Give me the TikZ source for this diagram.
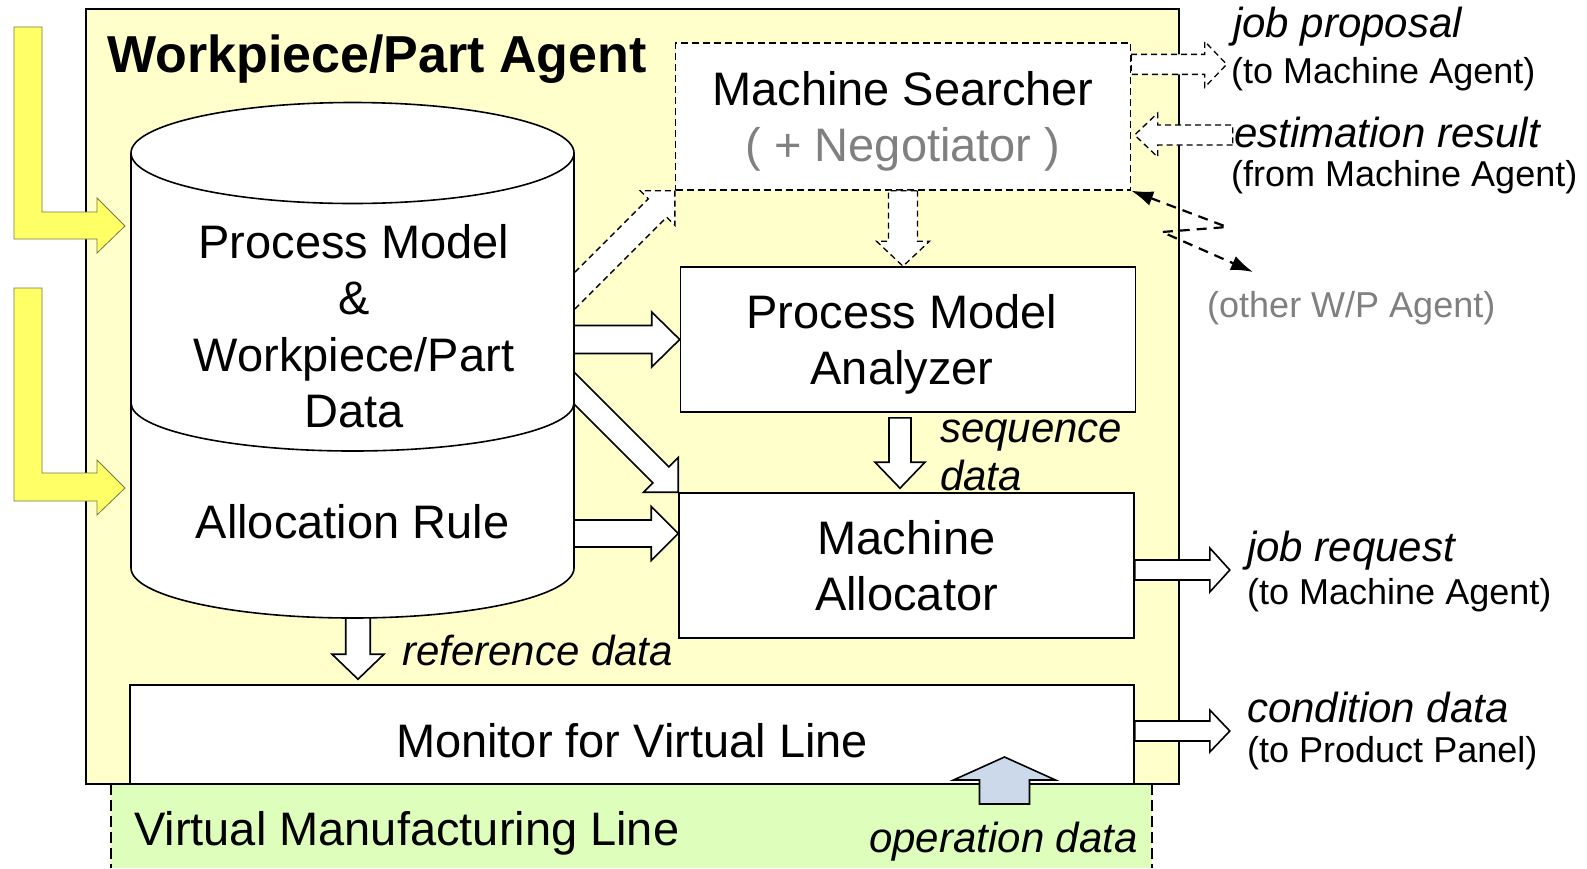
\documentclass[tikz,border=0pt]{standalone}
\usepackage{fontspec}
\setmainfont{Liberation Sans}
\usetikzlibrary{calc,arrows.meta}
\definecolor{agentyellow}{RGB}{255,255,204}
\definecolor{linegreen}{RGB}{221,255,187}
\definecolor{inyellow}{RGB}{255,255,102}
\definecolor{inedge}{RGB}{120,120,70}
\definecolor{opblue}{RGB}{204,217,234}
\tikzset{
	bshaft/.store in=\bshaft, bhead/.store in=\bhead, bheadlen/.store in=\bheadlen,
	bshaft=12pt, bhead=26pt, bheadlen=25pt,
	blk/.style={draw, fill=white, line width=1.6pt},
	blkdash/.style={blk, dash pattern=on 6pt off 4pt, line width=1.3pt},
	box/.style={draw, fill=white, line width=1.6pt, align=center, text depth=0pt, inner sep=0pt, font=\fontsize{47}{56.4}\selectfont},
	lbl/.style={inner sep=0pt, anchor=base west, font=\fontsize{42}{48}\selectfont\itshape},
	note/.style={inner sep=0pt, anchor=base west, font=\fontsize{36}{43}\selectfont},
	inarrow/.style={fill=inyellow, draw=inedge, line width=0.8pt},
}
% fat outlined arrow from #2 to #3
\newcommand{\blockarrow}[3][]{%
	\draw[blk,#1] let \p1=(#2), \p2=(#3), \p3=($(#3)!\bheadlen!(#2)$) in
		($(\p1)!\bshaft!90:(\p2)$) -- ($(\p3)!\bshaft!90:(\p2)$) -- ($(\p3)!\bhead!90:(\p2)$) -- (\p2)
		-- ($(\p3)!\bhead!-90:(\p2)$) -- ($(\p3)!\bshaft!-90:(\p2)$) -- ($(\p1)!\bshaft!-90:(\p2)$) -- cycle;}
\begin{document}
\begin{tikzpicture}[x = 1pt, y = -1pt]
	\useasboundingbox (0,0) rectangle (1587,868);
	\fill[linegreen] (111,784) rectangle (1152,868); %virtual line
	\draw[dash pattern=on 11pt off 5pt, line width=1.2pt] (111,784) -- (111,868) (1152,784) -- (1152,868);
	\draw[fill=agentyellow, line width=2.4pt] (86,9) rectangle (1179,784); %agent frame
	\node[anchor=base west, inner sep=0pt, font=\fontsize{52}{62}\selectfont\bfseries] (title) at (107,72) {Workpiece/Part Agent};
	\draw[inarrow] (14,27) -- (42,27) -- (42,212) -- (97,212) -- (97,198) -- (125,226) -- (97,253) -- (97,239) -- (14,239) -- cycle; %inputs
	\draw[inarrow] (14,288) -- (42,288) -- (42,473) -- (97,473) -- (97,460) -- (125,488) -- (97,515) -- (97,501) -- (14,501) -- cycle;

	\node[box, dash pattern=on 7pt off 4pt, line width=1.3pt, minimum width=455pt, minimum height=147pt] (ms) at (903,116.5) {Machine Searcher\\\textcolor{gray}{( + Negotiator )}};
	\node[box, minimum width=455pt, minimum height=145pt] (pma) at (908,339.5) {Process Model\hspace*{12pt}\\Analyzer\hspace*{12pt}};
	\node[box, minimum width=455pt, minimum height=145pt] (ma) at (906.5,565.5) {Machine\\Allocator};
	\node[box, minimum width=1004pt, minimum height=99pt, text height=45pt] (mon) at (632,734.5) {Monitor for Virtual Line};

	\node[lbl] (jobprop) at (1233,37) {job proposal};
	\node[note] (toma) at (1231,83) {(to Machine Agent)};
	\node[lbl] (estres) at (1234,147) {estimation result};
	\node[note] (fromma) at (1231,186) {(from Machine Agent)};
	\node[note, text=gray] (otherwp) at (1207,317) {(other W/P Agent)};
	\node[lbl, anchor=north west, align=left] (seqdata) at (940,420) {sequence\\data};
	\node[lbl] (refdata) at (402,665) {reference data};
	\node[lbl] (jobreq) at (1247,561) {job request};
	\node[note] (tomb) at (1247,604) {(to Machine Agent)};
	\node[lbl] (conddata) at (1247,722) {condition data};
	\node[note] (topp) at (1247,762) {(to Product Panel)};
	\node[lbl, anchor=base east] (opdata) at (1138,852) {operation data};
	\node[anchor=base west, inner sep=0pt, font=\fontsize{47}{56.4}\selectfont] (vml) at (134,845) {Virtual Manufacturing Line};

	\coordinate (cylR) at (574,341);
	\coordinate (maIn) at ($(ma.west)+(0,-32)$);
	\coordinate (diagA) at ($(ma.north west)+(-115,-115)$);
	\coordinate (msIn) at ($(ms.south west)+(-112,112)$);
	\coordinate (seqA) at ($(pma.south)+(-8,5)$);
	\coordinate (seqB) at ($(seqA |- ma.north)+(0,-4)$);
	\coordinate (refA) at (358,600);
	\coordinate (refB) at ($(refA |- mon.north)+(0,-5)$);
	\coordinate (jrA) at ($(ma.east)+(0,4.5)$);
	\coordinate (jrB) at ($(jrA)+(95,0)$);
	\coordinate (cdA) at ($(mon.east)+(0,-3.5)$);
	\coordinate (cdB) at ($(cdA)+(95,0)$);
	\coordinate (jpA) at ($(ms.north east)+(0,22)$);
	\coordinate (jpB) at ($(jpA)+(95.5,0)$);
	\coordinate (erB) at ($(ms.east)+(3.5,18.5)$);
	\coordinate (erA) at ($(erB)+(98,0)$);
	\coordinate (opA) at (1004.5,804);
	\coordinate (opB) at (1004.5,757);
	\coordinate (wpEnd) at (1253,272);

	\blockarrow[bshaft=14pt, bhead=27.5pt, bheadlen=28pt]{pma.west -| cylR}{pma.west};
	\blockarrow[bshaft=13.5pt, bhead=27pt, bheadlen=27pt]{maIn -| cylR}{maIn};
	\blockarrow[bshaft=11.3pt, bhead=24.5pt, bheadlen=24.5pt]{diagA}{ma.north west};
	\blockarrow[blkdash, bshaft=13pt, bhead=24.5pt, bheadlen=24.5pt]{msIn}{ms.south west};
	\blockarrow[blkdash, bshaft=14.5pt, bhead=26.5pt, bheadlen=25pt]{ms.south}{ms.south |- pma.north};
	\blockarrow[bshaft=11pt, bhead=25pt, bheadlen=26pt]{seqA}{seqB};
	\blockarrow[bshaft=12.25pt, bhead=26pt, bheadlen=25pt]{refA}{refB};
	\blockarrow[bshaft=10pt, bhead=22pt, bheadlen=20pt]{jrA}{jrB};
	\blockarrow[bshaft=10pt, bhead=21pt, bheadlen=20pt]{cdA}{cdB};
	\blockarrow[blkdash, bshaft=10pt, bhead=23pt, bheadlen=22pt]{jpA}{jpB};
	\blockarrow[blkdash, bshaft=10pt, bhead=22pt, bheadlen=23pt]{erA}{erB};
	\blockarrow[fill=opblue, bshaft=25pt, bhead=51pt, bheadlen=23pt]{opA}{opB};
	\draw[dash pattern=on 10pt off 7pt, line width=2.2pt, {Latex[length=22pt,width=15pt]}-{Latex[length=22pt,width=15pt]}] (ms.south east) -- (1227,227) -- (1162,232) -- (wpEnd); %to other agents

	% data drum
	\fill[white] (131,153) -- (131,568) arc[start angle=180, end angle=360, x radius=221.5pt, y radius=50pt] -- (574,153) -- cycle;
	\draw[line width=1.6pt] (131,153) -- (131,568) arc[start angle=180, end angle=360, x radius=221.5pt, y radius=50pt] -- (574,153);
	\draw[line width=1.6pt] (131,403) arc[start angle=180, end angle=360, x radius=221.5pt, y radius=48pt];
	\draw[fill=white, line width=1.6pt] (352.5,153) ellipse[x radius=221.5pt, y radius=50.5pt];
	\node[box, draw=none, fill=none] (pmdata) at (354,326) {Process Model\\\&\\Workpiece/Part\\Data};
	\node[box, draw=none, fill=none] (alloc) at (352.5,521) {Allocation Rule};
\end{tikzpicture}
\end{document}
